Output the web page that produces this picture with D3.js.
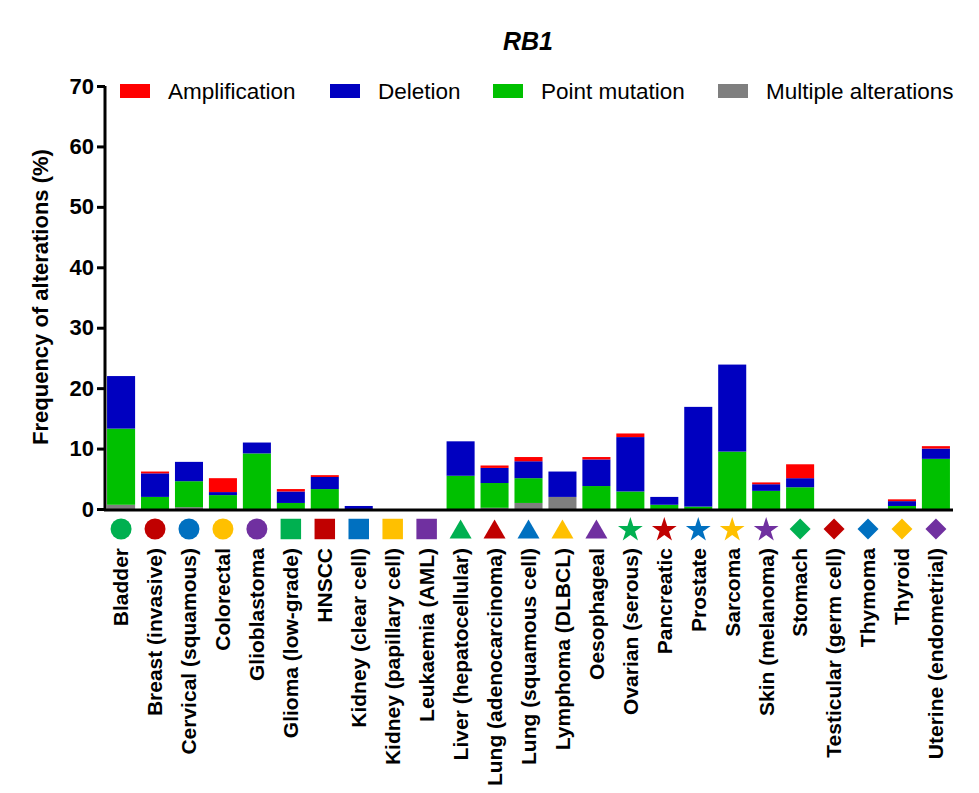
<!DOCTYPE html>
<html lang="en">
<head>
<meta charset="UTF-8">
<title>RB1</title>
<style>
    body { margin: 0; background: #fff; }
    text { font-family: "Liberation Sans", Arial, sans-serif; fill: #000; }
    .tick text { font-size: 22px; font-weight: bold; }
    .xlab { font-size: 21px; font-weight: bold; }
    .legend text { font-size: 22.5px; }
</style>
</head>
<body>
<svg width="979" height="793"></svg>
<script src="https://d3js.org/d3.v7.min.js"></script>
<script>

var categories = ["Bladder", "Breast (invasive)", "Cervical (squamous)", "Colorectal", "Glioblastoma",
    "Glioma (low-grade)", "HNSCC", "Kidney (clear cell)", "Kidney (papillary cell)", "Leukaemia (AML)",
    "Liver (hepatocellular)", "Lung (adenocarcinoma)", "Lung (squamous cell)", "Lymphoma (DLBCL)", "Oesophageal",
    "Ovarian (serous)", "Pancreatic", "Prostate", "Sarcoma", "Skin (melanoma)",
    "Stomach", "Testicular (germ cell)", "Thymoma", "Thyroid", "Uterine (endometrial)"];

// stacked bottom to top: multiple, point, deletion, amplification
var multiple      = [0.7, 0, 0.3, 0, 0, 0, 0, 0, 0, 0, 0, 0.2, 1.0, 2.0, 0, 0, 0, 0, 0, 0, 0, 0, 0, 0, 0];
var point         = [12.6, 2.0, 4.3, 2.3, 9.2, 1.0, 3.3, 0, 0, 0, 5.5, 4.1, 4.1, 0, 3.8, 2.9, 0.7, 0.4, 9.5, 3.0, 3.6, 0, 0, 0.5, 8.3];
var deletion      = [8.7, 3.9, 3.2, 0.5, 1.8, 1.9, 2.0, 0.5, 0, 0, 5.7, 2.5, 2.8, 4.2, 4.4, 9.0, 1.3, 16.5, 14.4, 1.1, 1.5, 0, 0, 0.8, 1.7];
var amplification = [0, 0.3, 0, 2.3, 0, 0.4, 0.3, 0, 0, 0, 0, 0.4, 0.7, 0, 0.4, 0.6, 0, 0, 0, 0.3, 2.3, 0, 0, 0.3, 0.4];

var yTicks = [0, 10, 20, 30, 40, 50, 60, 70];

var seriesKeys = ["multiple", "point", "deletion", "amplification"];
var seriesColors = {multiple: "#7f7f7f", point: "#00c000", deletion: "#0000c0", amplification: "#ff0000"};

var legendItems = [
    {key: "amplification", label: "Amplification", x: 120},
    {key: "deletion", label: "Deletion", x: 330},
    {key: "point", label: "Point mutation", x: 493},
    {key: "multiple", label: "Multiple alterations", x: 718}
];

var markerShapes = ["circle", "circle", "circle", "circle", "circle",
    "square", "square", "square", "square", "square",
    "triangle", "triangle", "triangle", "triangle", "triangle",
    "star", "star", "star", "star", "star",
    "diamond", "diamond", "diamond", "diamond", "diamond"];
var palette = ["#00b050", "#c00000", "#0070c0", "#ffc000", "#7030a0"];

var table = categories.map(function(c, i) {
    return {cat: c, multiple: multiple[i], point: point[i], deletion: deletion[i], amplification: amplification[i]};
});

var svg = d3.select("svg");

var x = d3.scaleBand()
    .domain(categories)
    .range([104, 953])
    .paddingInner(0.174)
    .paddingOuter(0.09);

var y = d3.scaleLinear()
    .domain([0, 70])
    .range([509, 86]);

var stack = d3.stack().keys(seriesKeys);
var layers = stack(table);

svg.append("g")
    .selectAll("g")
    .data(layers)
    .enter().append("g")
    .attr("fill", function(d) { return seriesColors[d.key]; })
    .selectAll("rect")
    .data(function(d) { return d; })
    .enter().append("rect")
    .attr("x", function(d) { return x(d.data.cat); })
    .attr("width", x.bandwidth())
    .attr("y", function(d) { return y(d[1]); })
    .attr("height", function(d) { return y(d[0]) - y(d[1]); });

// y axis
var yAxis = svg.append("g")
    .attr("transform", "translate(105,0)")
    .call(d3.axisLeft(y).tickValues(yTicks).tickSize(8).tickPadding(3));
yAxis.selectAll("line, path").attr("stroke", "#000").attr("stroke-width", 3);
yAxis.select(".domain").attr("d", "M0," + y(70) + "V" + y(0));

// x axis line
svg.append("line")
    .attr("x1", 104).attr("x2", 953)
    .attr("y1", y(0) + 1).attr("y2", y(0) + 1)
    .attr("stroke", "#000").attr("stroke-width", 3);

// marker symbols under each bar
var symbolTypes = {circle: d3.symbolCircle, square: d3.symbolSquare, triangle: d3.symbolTriangle, star: d3.symbolStar, diamond: d3.symbolSquare};
var symbolSizes = {circle: 346, square: 420, triangle: 210, star: 190, diamond: 220};
var markerY = 529;

svg.append("g")
    .selectAll("path")
    .data(categories)
    .enter().append("path")
    .attr("d", function(d, i) {
        return d3.symbol().type(symbolTypes[markerShapes[i]]).size(symbolSizes[markerShapes[i]])();
    })
    .attr("transform", function(d, i) {
        var cx = x(d) + x.bandwidth() / 2;
        var s = markerShapes[i];
        if (s === "triangle") {
            var a = Math.sqrt(symbolSizes.triangle / (3 * Math.sqrt(3)));
            return "translate(" + cx + "," + (markerY + a / 2) + ")";
        }
        if (s === "star") return "translate(" + cx + "," + (markerY + 1) + ")";
        if (s === "diamond") return "translate(" + cx + "," + markerY + ") rotate(45)";
        return "translate(" + cx + "," + markerY + ")";
    })
    .attr("fill", function(d, i) { return palette[i % 5]; });

// category labels
svg.append("g")
    .selectAll("text")
    .data(categories)
    .enter().append("text")
    .attr("class", "xlab")
    .attr("transform", function(d) {
        return "translate(" + (x(d) + x.bandwidth() / 2) + ",548) rotate(-90)";
    })
    .attr("dy", "0.35em")
    .attr("text-anchor", "end")
    .text(function(d) { return d; });

// y label
svg.append("text")
    .attr("transform", "translate(48,297) rotate(-90)")
    .attr("text-anchor", "middle")
    .style("font-size", "22px")
    .style("font-weight", "bold")
    .text("Frequency of alterations (%)");

// title
svg.append("text")
    .attr("x", 528)
    .attr("y", 50)
    .attr("text-anchor", "middle")
    .style("font-size", "25px")
    .style("font-weight", "bold")
    .style("font-style", "italic")
    .text("RB1");

// legend
var legend = svg.append("g").attr("class", "legend");
var li = legend.selectAll("g")
    .data(legendItems)
    .enter().append("g")
    .attr("transform", function(d) { return "translate(" + d.x + ",84)"; });
li.append("rect")
    .attr("width", 30).attr("height", 14)
    .attr("fill", function(d) { return seriesColors[d.key]; });
li.append("text")
    .attr("x", 48).attr("y", 15)
    .text(function(d) { return d.label; });

</script>
</body>
</html>
